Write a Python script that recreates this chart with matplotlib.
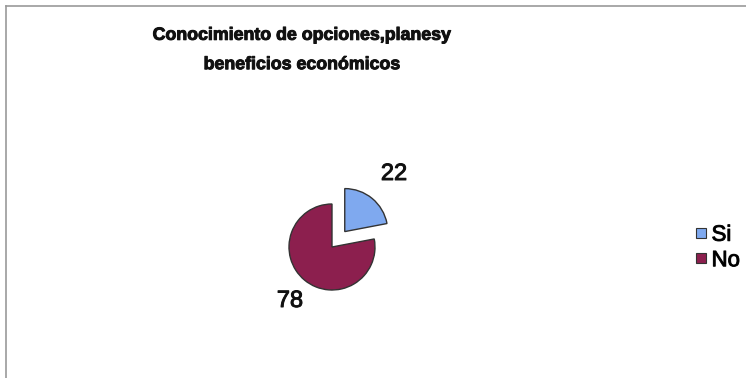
import matplotlib.pyplot as plt
import matplotlib.patheffects as pe
from matplotlib.patches import Patch

categories = ['Si', 'No']
values = [22, 78]
colors = ['#7fa9ef', '#8c1f4e']

plt.rcParams['font.family'] = ['Liberation Sans', 'DejaVu Sans']

fig = plt.figure(figsize=(7.46, 3.78), dpi=100)
ax = fig.add_axes([0, 0, 1, 1])

# pie drawn in pixel-like data units (explode is in the same units)
wedges, _ = ax.pie(values, center=(332, 131), radius=43, startangle=90,
                   counterclock=False, colors=colors, explode=(20, 0),
                   wedgeprops=dict(edgecolor='#333333', linewidth=1.0))

ax.set_xlim(0, 746)
ax.set_ylim(0, 378)
ax.set_aspect('equal')
ax.axis('off')

heavy = [pe.withStroke(linewidth=0.7, foreground='#111111')]

ax.text(394, 204, str(values[0]), fontsize=17, ha='center', va='center',
        color='#111111', path_effects=heavy)
ax.text(290, 77, str(values[1]), fontsize=17, ha='center', va='center',
        color='#111111', path_effects=heavy)

ax.text(302, 328, 'Conocimiento de opciones,planesy\nbeneficios económicos',
        fontsize=12.8, fontweight='bold', ha='center', va='center',
        linespacing=1.95, color='#111111', path_effects=heavy)

# frame lines along top and left
ax.plot([6, 746], [372, 372], color='#999999', lw=1.2)
ax.plot([6, 6], [0, 372], color='#999999', lw=1.2)

handles = [Patch(facecolor=c, edgecolor='#333333', linewidth=0.8) for c in colors]
leg = ax.legend(handles, categories, loc='center left',
                bbox_to_anchor=(696 / 746, 1 - 248 / 378),
                frameon=False, fontsize=16, handlelength=0.45, handleheight=0.32,
                handletextpad=0.25, labelspacing=0.2, borderpad=0, borderaxespad=0)
for t in leg.get_texts():
    t.set_path_effects(heavy)

fig.savefig('out.png', dpi=100)
